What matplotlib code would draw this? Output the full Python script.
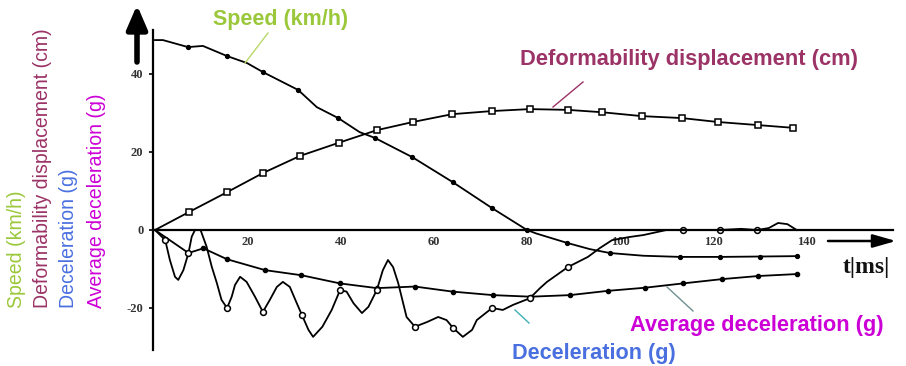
import numpy as np
import matplotlib
matplotlib.use("Agg")
import matplotlib.pyplot as plt
from matplotlib.lines import Line2D
from matplotlib.patches import FancyArrowPatch

# ---------------- data ----------------
speed_t = [0, 1.7, 7.1, 10.3, 15.5, 19.8, 23.2, 30.8, 34.8, 39.4, 44, 47.3, 55.3, 64, 72.5,
           80, 82, 88.6, 93.5, 97.8, 105, 113, 121.5, 130, 138]
speed_v = [48.7, 48.7, 46.9, 47.2, 44.6, 42.8, 40.5, 35.9, 31.5, 28.7, 25.1, 23.6, 18.7, 12.3, 5.6,
           0, -0.9, -3.3, -4.9, -5.9, -6.6, -6.9, -6.9, -6.8, -6.7]
speed_marks = [7.1, 15.5, 23.2, 30.8, 39.4, 47.3, 55.3, 64, 72.5, 80, 88.6, 97.8, 113, 121.5, 130, 138]

disp_t = [0, 7.3, 15.5, 23.2, 31.2, 39.6, 47.7, 55.5, 63.9, 72.5, 80.6, 88.8, 96.1, 104.7,
          113.3, 121, 129.7, 137.2]
disp_v = [0, 4.6, 9.7, 14.6, 19.0, 22.4, 25.6, 27.7, 29.7, 30.5, 31.0, 30.8, 30.2, 29.2,
          28.7, 27.7, 26.9, 26.2]

avg_t = [0, 7.2, 10.4, 15.5, 23.7, 31.5, 39.8, 47.7, 55.9, 64, 72.7, 80.8, 89.2, 97.4,
         105.4, 113.5, 121.9, 129.7, 138]
avg_v = [0, -5.9, -4.7, -7.5, -10.3, -11.6, -13.7, -14.9, -14.5, -15.8, -16.7, -17.1, -16.7, -15.6,
         -14.8, -13.7, -12.6, -11.8, -11.3]

decel_t = [0, 2.2, 3.2, 4.3, 5, 6.1, 7.2, 7.9, 8.6, 9.8, 11.1, 12.2, 13.3, 14.3, 15.5, 16.5,
           17.2, 18.3, 19.7, 21.5, 23.2, 24.7, 26.2, 27.5, 29, 30.5, 31.6, 33, 34, 36, 38,
           39.8, 41.2, 42.7, 44.5, 45.9, 47.7, 49, 50.1, 51.2, 52.3, 54.1, 55.9, 58.5, 60.9,
           62.7, 64.1, 66.2, 68.2, 69.2, 72.5, 74.8, 77, 80.6, 82.8, 84.3, 88.8, 93.1, 95.7,
           98.3, 102, 105, 110, 113.5, 121.5, 126, 129.5, 132, 134, 136, 138]
decel_v = [0, -2.6, -7.7, -12, -12.8, -10.3, -5.9, -1.7, 0, 0, -4.3, -9.4, -13.6, -17.9, -20, -17.1,
           -14.1, -12, -13.3, -17.1, -21, -17.9, -14.6, -13.3, -14.6, -18.8, -21.8, -25.6, -27.4, -24.8, -20.5,
           -15.4, -15.8, -18.8, -21.3, -19.7, -15.4, -10.3, -7.7, -9.5, -13.6, -22.3, -24.8, -23.6, -22.3,
           -23.1, -25.1, -27.4, -25.6, -23.1, -20, -20.5, -19.2, -17.5, -14.9, -13.3, -9.5, -6.9, -4.6,
           -2.6, -1.8, -1.3, 0, 0, 0, 0.3, 0, 0.5, 1.8, 1.5, 0]
decel_marks = [2.2, 7.2, 15.5, 23.2, 31.6, 39.8, 47.7, 55.9, 64.1, 72.5, 80.6, 88.8, 113.5, 121.5, 129.5]

x_ticks = [20, 40, 60, 80, 100, 120, 140]
y_ticks = [-20, 0, 20, 40]

# ---------------- figure ----------------
W, H = 906, 366
fig = plt.figure(figsize=(W / 100, H / 100), dpi=100)
fig.patch.set_facecolor("white")

x0px, xs = 155, 4.65   # t=0 at px 155, 4.65 px per ms
y0px, ys = 230, 3.9    # v=0 at py 230, 3.9 px per unit
L, R, T, B = 153, 893, 30, 350
ax = fig.add_axes([L / W, (H - B) / H, (R - L) / W, (B - T) / H])
ax.set_xlim((L - x0px) / xs, (R - x0px) / xs)
ax.set_ylim((y0px - B) / ys, (y0px - T) / ys)
ax.set_facecolor("none")

for s in ["top", "right"]:
    ax.spines[s].set_visible(False)
ax.spines["bottom"].set_position(("data", 0))
ax.spines["bottom"].set_linewidth(1.6)
ax.spines["left"].set_linewidth(1.6)

tick_font = dict(family="Liberation Serif", weight="bold", size=9)
ax.set_xticks(x_ticks)
ax.set_xticklabels([str(v) for v in x_ticks], fontdict=tick_font, color="#333333")
ax.set_yticks(y_ticks)
ax.set_yticklabels([str(v) for v in y_ticks], fontdict=tick_font, color="#333333")
ax.tick_params(axis="x", length=0, pad=4)
ax.tick_params(axis="y", length=3, width=1.2, pad=4, direction="out")


def idx(ts, marks):
    return [i for i, t in enumerate(ts) if t in marks]


lw = 1.3
ax.plot(speed_t, speed_v, color="black", lw=lw, marker="o", ms=2.8,
        markevery=idx(speed_t, speed_marks), mfc="black")
ax.plot(disp_t, disp_v, color="black", lw=lw, marker="s", ms=4.5, mfc="white",
        mew=1.1, markevery=list(range(1, len(disp_t))))
ax.plot(avg_t, avg_v, color="black", lw=lw, marker="o", ms=3.0, mfc="black",
        markevery=list(range(1, len(avg_t))))
ax.plot(decel_t, decel_v, color="black", lw=lw, marker="o", ms=4.2, mfc="white",
        mew=1.1, markevery=idx(decel_t, decel_marks))

# ---------------- arrows ----------------
fig.add_artist(FancyArrowPatch(
    (137, H - 62), (137, H - 5), transform=None, arrowstyle="-|>,head_length=6.5,head_width=2.8",
    lw=4, color="black", mutation_scale=2.2, shrinkA=0, shrinkB=0))
fig.add_artist(FancyArrowPatch(
    (828, H - 241), (896, H - 241), transform=None, arrowstyle="-|>,head_length=7,head_width=2.0",
    lw=1.8, color="black", mutation_scale=2.0, shrinkA=0, shrinkB=0))

fig.text(866 / W, (H - 268) / H, "t|ms|", family="Liberation Serif", weight="bold",
         size=17, ha="center", va="center", color="#111111")

# ---------------- coloured annotations ----------------
c_speed = "#9bc83a"
c_disp = "#9b3366"
c_dec = "#4a70e0"
c_avg = "#cc00d6"

renderer = fig.canvas.get_renderer()


def fit(txt, width):
    bb = txt.get_window_extent(renderer)
    w = bb.width if txt.get_rotation() == 0 else bb.height
    txt.set_fontsize(txt.get_fontsize() * width / w)


def top_label(s, x1, x2, yc, color):
    t = fig.text((x1 + x2) / 2 / W, (H - yc) / H, s, family="Liberation Sans", weight="bold",
                 size=12, ha="center", va="center", color=color)
    fit(t, x2 - x1)
    return t


top_label("Speed (km/h)", 213, 348, 19, c_speed)
top_label("Deformability displacement (cm)", 520, 857, 60, c_disp)
top_label("Average deceleration (g)", 630, 883, 326, c_avg)
top_label("Deceleration (g)", 512, 675, 354, c_dec)


def pointer(p1, p2, color):
    fig.add_artist(Line2D([p1[0], p2[0]], [H - p1[1], H - p2[1]], transform=None,
                          color=color, lw=1.0))


pointer((268, 33), (245, 63), "#b8d86a")
pointer((583, 82), (553, 107), c_disp)
pointer((667, 287), (693, 311), "#6f9090")
pointer((515, 310), (529, 323), "#3fb0b5")

left_labels = [("Speed (km/h)", 17, c_speed),
               ("Deformability displacement (cm)", 43, c_disp),
               ("Deceleration (g)", 69, c_dec),
               ("Average deceleration (g)", 96, c_avg)]
lt = []
for s, x, c in left_labels:
    t = fig.text(x / W, (H - 308) / H, s, family="Liberation Sans", size=12, rotation=90,
                 ha="center", va="bottom", color=c)
    lt.append(t)
fit(lt[1], 280)
for t in lt:
    t.set_fontsize(lt[1].get_fontsize())

fig.savefig("out.png", dpi=100, facecolor="white")
